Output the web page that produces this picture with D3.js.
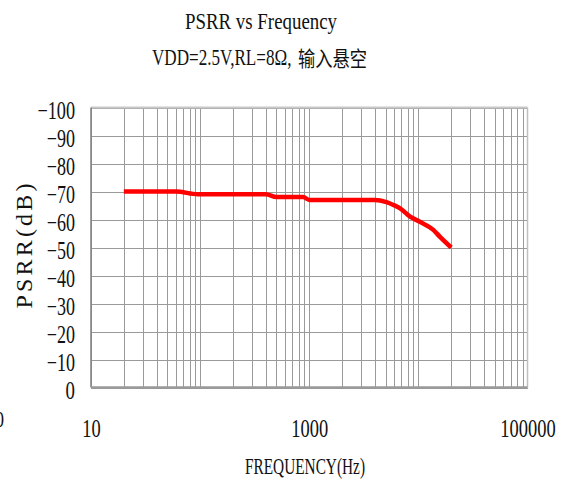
<!DOCTYPE html>
<html>
<head>
<meta charset="utf-8">
<title>PSRR vs Frequency</title>
<script src="https://cdnjs.cloudflare.com/ajax/libs/d3/7.8.5/d3.min.js"></script>
<style>
  body { margin: 0; background: #fff; }
  svg text { font-family: "Liberation Serif", serif; fill: #111; }
  .grid line { stroke: #9a9a9a; stroke-width: 1; shape-rendering: crispEdges; }
  .grid path { display: none; }
</style>
</head>
<body>
<svg id="chart" width="564" height="485"></svg>
<script>
// data
const freqs = [20, 60, 95, 400, 500, 880, 1000, 4000, 5100, 5900, 6800, 8400, 10300, 13700, 15700, 20000];
const psrr = [-70, -70, -69, -69, -68, -68, -67, -67, -66.2, -65.2, -64, -61, -59.2, -56.3, -53.9, -50];
const xLabels = [10, 1000, 100000];
const yTicks = [0, -10, -20, -30, -40, -50, -60, -70, -80, -90, -100];

const svg = d3.select('#chart');
const pLeft = 91, pRight = 527.5, pTop = 107.5, pBottom = 387.5;

const x = d3.scaleLog().domain([10, 100000]).range([pLeft, pRight]);
const y = d3.scaleLinear().domain([0, -100]).range([pBottom, pTop]);

// squeeze text horizontally like the narrow font of the original
function fit(sel, w) {
    sel.attr('textLength', w).attr('lengthAdjust', 'spacingAndGlyphs');
}

// grid lines at 1..9 of every decade
const minor = [];
for (let d = 10; d < 100000; d *= 10) {
    for (let k = 1; k < 10; k++) minor.push(d * k);
}
svg.append('g').attr('class', 'grid')
    .attr('transform', `translate(0,${pBottom})`)
    .call(d3.axisBottom(x).tickValues(minor).tickSize(-(pBottom - pTop)).tickFormat(''));

svg.append('g').attr('class', 'grid')
    .attr('transform', `translate(${pLeft},0)`)
    .call(d3.axisLeft(y).tickValues(yTicks).tickSize(-(pRight - pLeft)).tickFormat(''));

// frame
svg.append('line').attr('x1', pLeft).attr('x2', pRight).attr('y1', pTop).attr('y2', pTop)
    .attr('stroke', '#c8c8c8').attr('stroke-width', 2);
svg.append('line').attr('x1', pRight).attr('x2', pRight).attr('y1', pTop).attr('y2', pBottom)
    .attr('stroke', '#c0c0c0').attr('stroke-width', 1.5);
svg.append('line').attr('x1', pLeft).attr('x2', pLeft).attr('y1', pTop).attr('y2', pBottom)
    .attr('stroke', '#808080').attr('stroke-width', 1.5);
svg.append('line').attr('x1', pLeft).attr('x2', pRight).attr('y1', pBottom).attr('y2', pBottom)
    .attr('stroke', '#9a9a9a').attr('stroke-width', 2.5);

// y tick labels
const yAxis = svg.append('g')
    .attr('transform', `translate(${pLeft},0)`)
    .call(d3.axisLeft(y).tickValues(yTicks).tickSize(0).tickPadding(16).tickFormat(d => d === 0 ? '0' : '\u2212' + Math.abs(d)));
yAxis.select('.domain').remove();
yAxis.selectAll('text')
    .attr('font-size', 25)
    .attr('font-family', '"Liberation Serif", serif')
    .attr('dy', '0.43em')
    .each(function () {
        const t = d3.select(this);
        fit(t, t.text().length * 9.4);
    });

// x tick labels (narrowed with a horizontal scale)
const xAxis = svg.append('g')
    .attr('transform', `translate(0,${pBottom})`)
    .call(d3.axisBottom(x).tickValues(xLabels).tickSize(0).tickFormat(d3.format('d')));
xAxis.select('.domain').remove();
xAxis.selectAll('text')
    .attr('font-size', 26)
    .attr('font-family', '"Liberation Serif", serif')
    .attr('y', 50)
    .attr('dy', 0)
    .attr('transform', 'scale(0.71,1)');

// curve
const line = d3.line()
    .x((d, i) => x(freqs[i]))
    .y(d => y(d))
    .curve(d3.curveMonotoneX);
svg.append('path')
    .datum(psrr)
    .attr('d', line)
    .attr('fill', 'none')
    .attr('stroke', '#ff0000')
    .attr('stroke-width', 4.5)
    .attr('stroke-linejoin', 'round');

// titles
svg.append('text').attr('x', 261).attr('y', 29).attr('text-anchor', 'middle')
    .attr('font-size', 22.5).text('PSRR vs Frequency').call(fit, 152);
svg.append('text').attr('transform', 'translate(152,65) scale(0.76,1)')
    .attr('font-size', 22.5).text('VDD=2.5V,RL=8\u03A9,');
svg.append('text').attr('x', 298).attr('y', 66)
    .attr('font-size', 21).style('font-family', '"Noto Sans CJK SC", sans-serif')
    .text('输入悬空').call(fit, 69);

// axis titles
svg.append('text').attr('x', 305).attr('y', 474).attr('text-anchor', 'middle')
    .attr('font-size', 22.5).text('FREQUENCY(Hz)').call(fit, 120);
svg.append('text').attr('transform', 'translate(32,246) rotate(-90)').attr('text-anchor', 'middle')
    .attr('font-size', 24).text('PSRR(dB)')
    .attr('textLength', 125).attr('lengthAdjust', 'spacing');

// stray clipped label at the left edge
svg.append('text').attr('x', 4).attr('y', 427).attr('text-anchor', 'end')
    .attr('font-size', 24).text('0').call(fit, 9);
</script>
</body>
</html>
